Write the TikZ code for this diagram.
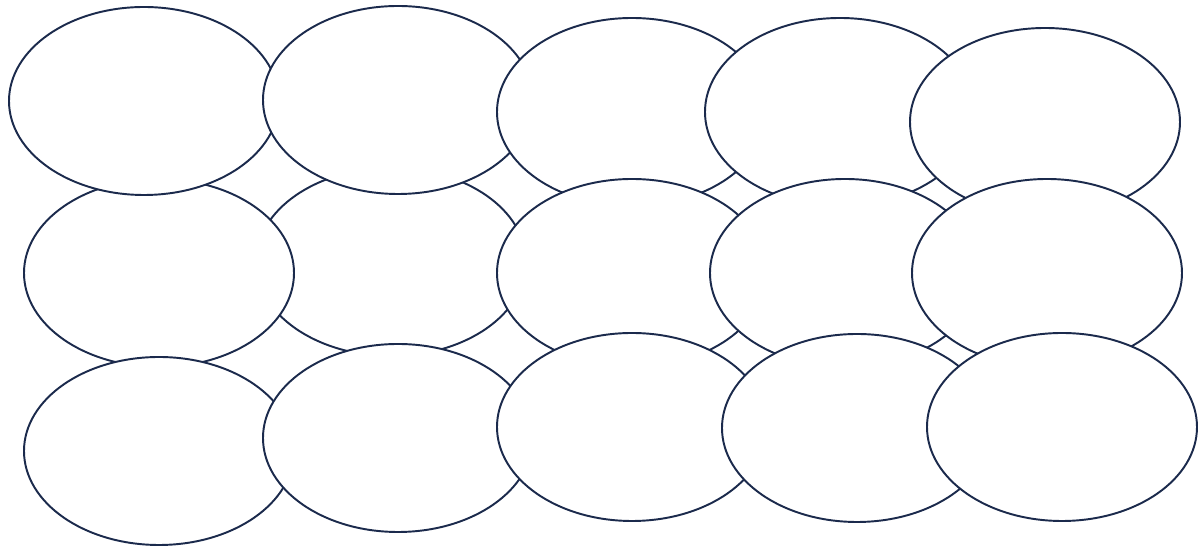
\documentclass[tikz,border=0pt]{standalone}
\usepackage{tikz}
\usetikzlibrary{shapes.geometric}
\definecolor{cedge}{HTML}{1B2A4C}
\tikzset{
  blob/.style={ellipse, draw=cedge, fill=white, line width=1.1pt, inner sep=0pt,
               minimum width=5.4cm, minimum height=3.76cm},
}

\begin{document}
\begin{tikzpicture}[x=1cm, y=1cm]
\useasboundingbox (0,0) rectangle (24.06,11);
% drawn back to front
\foreach \n/\x/\y in {b2/7.82/5.76, b1/3.18/5.54, a1/2.88/8.98, a2/7.96/9.00,
    a3/12.64/8.76, a4/16.80/8.76, a5/20.90/8.56, b3/12.64/5.54, b4/16.90/5.54,
    b5/20.94/5.54, c1/3.18/1.98, c2/7.96/2.24, c3/12.64/2.46, c4/17.14/2.44,
    c5/21.24/2.46}
  \node[blob] (\n) at (\x,\y) {};
\end{tikzpicture}
\end{document}
